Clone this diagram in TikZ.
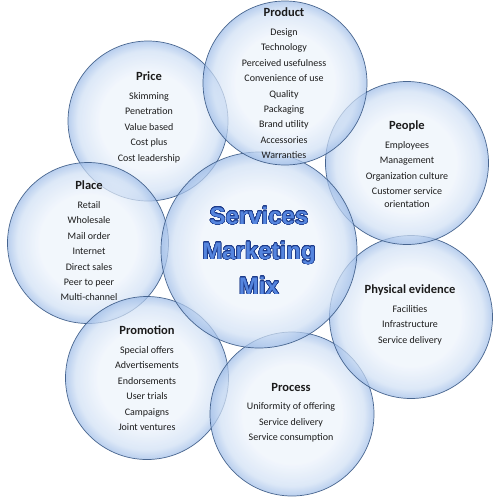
\documentclass[tikz,border=0pt]{standalone}
\usepackage{fontspec}
\setmainfont{Carlito}
\newfontfamily\mixfont{Liberation Sans}
\usepackage{contour}
\contourlength{0.55pt}
\contournumber{32}
\definecolor{bubA}{HTML}{EEF4FC}
\definecolor{bubB}{HTML}{D0E0F5}
\definecolor{bubC}{HTML}{9FBDE8}
\definecolor{edge}{HTML}{3A5985}
\definecolor{txt}{HTML}{1C1C1C}
\definecolor{mixfill}{HTML}{5585DE}
\definecolor{mixline}{HTML}{1C3A8A}
\pgfdeclareradialshading{bubble}{\pgfpoint{0bp}{0bp}}{color(0bp)=(bubA); color(15bp)=(bubA); color(22bp)=(bubB); color(25bp)=(bubC); color(50bp)=(bubC)}
\newcommand{\ttl}[1]{{\fontsize{12.5}{15}\selectfont\bfseries #1}\\[3.1pt]}
\tikzset{
  bubblenode/.style={circle, draw=edge, line width=0.7pt, shading=bubble, fill opacity=0.72, draw opacity=0.9, inner sep=0pt},
  lbl/.style={align=center, anchor=north, inner sep=0pt, text=txt, font=\fontsize{10}{15.4}\selectfont},
}
\begin{document}
\begin{tikzpicture}[x=1pt,y=-1pt]
\fill[white] (0,0) rectangle (503,496);
\useasboundingbox (0,0) rectangle (503,496);
% circles
\node[bubblenode, minimum size=160pt] (price) at (148,121) {};
\node[bubblenode, minimum size=161pt] (place) at (88,243) {};
\node[bubblenode, minimum size=163pt] (prom) at (147,378) {};
\node[bubblenode, minimum size=164pt] (proc) at (292,414) {};
\node[bubblenode, minimum size=163pt] (phys) at (411,317) {};
\node[bubblenode, minimum size=163pt] (peop) at (407,163) {};
\node[bubblenode, minimum size=196pt] (mix) at (259,250) {};
\node[bubblenode, minimum size=164pt] (prod) at (285,83) {};
% texts
\node[lbl] (prodT) at (284,8) {\ttl{Product}Design\\Technology\\Perceived usefulness\\Convenience of use\\Quality\\Packaging\\Brand utility\\Accessories\\Warranties};
\node[lbl] (priceT) at (149,72) {\ttl{Price}Skimming\\Penetration\\Value based\\Cost plus\\Cost leadership};
\node[lbl] (peopT) at (407,121) {\ttl{People}Employees\\Management\\Organization culture\\Customer service\\[-3pt]orientation};
\node[lbl] (placeT) at (89,181) {\ttl{Place}Retail\\Wholesale\\Mail order\\Internet\\Direct sales\\Peer to peer\\Multi-channel};
\node[lbl] (physT) at (410,285) {\ttl{Physical evidence}Facilities\\Infrastructure\\Service delivery};
\node[lbl] (promT) at (147,326) {\ttl{Promotion}Special offers\\Advertisements\\Endorsements\\User trials\\Campaigns\\Joint ventures};
\node[lbl] (procT) at (291,383) {\ttl{Process}Uniformity of offering\\Service delivery\\Service consumption};
\node[align=center, inner sep=0pt, font=\mixfont\bfseries\fontsize{24}{35}\selectfont] (mixT) at (259,251)
  {\contour{mixline}{\textcolor{mixfill}{Services}}\\\contour{mixline}{\textcolor{mixfill}{Marketing}}\\\contour{mixline}{\textcolor{mixfill}{Mix}}};
\end{tikzpicture}
\end{document}
